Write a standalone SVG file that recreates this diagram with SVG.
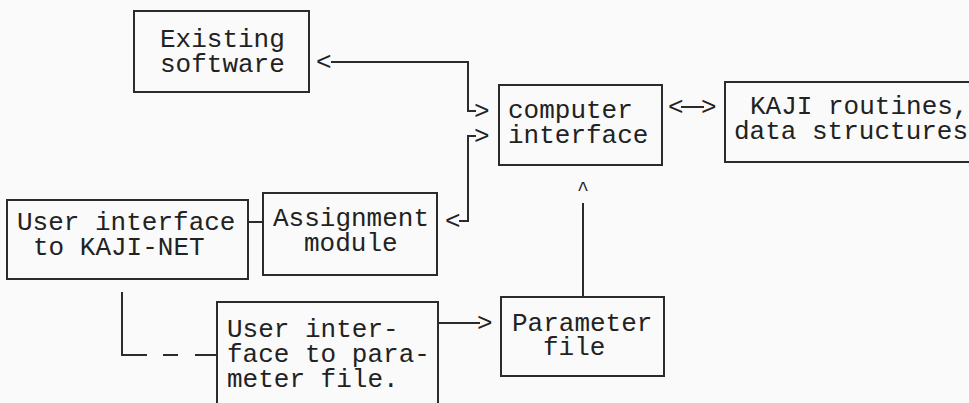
<svg xmlns="http://www.w3.org/2000/svg" width="969" height="403" viewBox="0 0 969 403">
  <style>
    .box { fill: none; stroke: #2b2b2b; stroke-width: 2; }
    .wire { fill: none; stroke: #2b2b2b; stroke-width: 2; }
    .t { font-family: "Liberation Mono", "Courier New", monospace; font-size: 26px; fill: #222; white-space: pre; }
    .caret { font-family: "Liberation Mono", "Courier New", monospace; font-size: 20px; fill: #222; }
  </style>
  <rect width="969" height="403" fill="#fafafa"/>

  <g id="existing-software">
    <rect class="box" x="134" y="11" width="175" height="81"/>
    <text class="t" x="160" y="47">Existing</text>
    <text class="t" x="160" y="72">software</text>
  </g>

  <g id="computer-interface">
    <rect class="box" x="499" y="85" width="163" height="80"/>
    <text class="t" x="508" y="118">computer</text>
    <text class="t" x="508" y="143">interface</text>
  </g>

  <g id="kaji-routines">
    <rect class="box" x="725" y="82" width="260" height="80"/>
    <text class="t" x="750" y="114">KAJI routines,</text>
    <text class="t" x="734" y="139">data structures</text>
  </g>

  <g id="user-interface-kaji-net">
    <rect class="box" x="7" y="200" width="241" height="79"/>
    <text class="t" x="17" y="230">User interface</text>
    <text class="t" x="33" y="255">to KAJI-NET</text>
  </g>

  <g id="assignment-module">
    <rect class="box" x="263" y="193" width="174" height="82"/>
    <text class="t" x="273" y="226">Assignment</text>
    <text class="t" x="304" y="251">module</text>
  </g>

  <g id="user-interface-parameter-file">
    <rect class="box" x="217" y="302" width="221" height="110"/>
    <text class="t" x="227" y="337">User inter-</text>
    <text class="t" x="227" y="362">face to para-</text>
    <text class="t" x="227" y="387">meter file.</text>
  </g>

  <g id="parameter-file">
    <rect class="box" x="501" y="297" width="163" height="79"/>
    <text class="t" x="512" y="331">Parameter</text>
    <text class="t" x="543" y="355">file</text>
  </g>

  <g id="connectors">
    <!-- computer interface <-> existing software -->
    <text class="t" x="316" y="70">&lt;</text>
    <path class="wire" d="M331,62 H468 V111 H476"/>
    <text class="t" x="474" y="119">&gt;</text>
    <!-- assignment module <-> computer interface -->
    <text class="t" x="445" y="229">&lt;</text>
    <path class="wire" d="M459,221 H468 V136 H476"/>
    <text class="t" x="474" y="144">&gt;</text>
    <!-- computer interface <-> KAJI routines -->
    <text class="t" x="668" y="115">&lt;</text>
    <path class="wire" d="M681,107 H704"/>
    <text class="t" x="701" y="115">&gt;</text>
    <!-- parameter file -> computer interface -->
    <text class="caret" x="583" y="195" text-anchor="middle">^</text>
    <path class="wire" d="M583,203 V297"/>
    <!-- user interface to parameter file -> parameter file -->
    <path class="wire" d="M438,323 H480"/>
    <text class="t" x="477" y="331">&gt;</text>
    <!-- user interface to KAJI-NET - assignment module -->
    <path class="wire" d="M248,222 H263"/>
    <!-- user interface to KAJI-NET - - user interface to parameter file -->
    <path class="wire" d="M122,292 V355 H147 M163,355 H178 M195,355 H217"/>
  </g>
</svg>
